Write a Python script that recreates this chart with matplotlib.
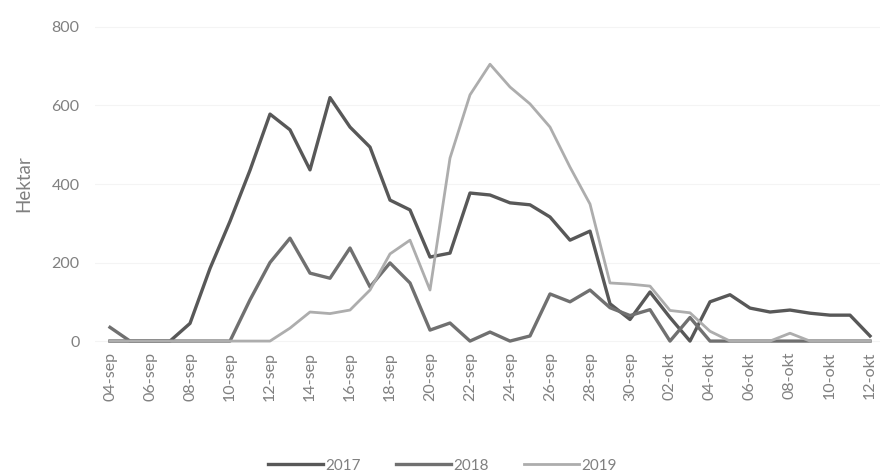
import matplotlib
matplotlib.use("Agg")
import matplotlib.pyplot as plt

plt.rcParams['font.family'] = ['Lato', 'DejaVu Sans']

dates = (["%02d-sep" % d for d in range(4, 31)] +
         ["%02d-okt" % d for d in range(1, 13)])

ha_2017 = [0, 0, 0, 0, 45, 185, 305, 435, 578, 538, 436, 620, 545, 494,
           359, 334, 214, 224, 377, 372, 352, 347, 316, 257, 280, 95, 55,
           125, 60, 0, 100, 118, 84, 74, 79, 71, 66, 66, 13]
ha_2018 = [35, 0, 0, 0, 0, 0, 0, 105, 200, 262, 173, 160, 237, 138,
           199, 148, 28, 46, 0, 23, 0, 13, 120, 100, 130, 85, 65,
           80, 0, 60, 0, 0, 0, 0, 0, 0, 0, 0, 0]
ha_2019 = [0, 0, 0, 0, 0, 0, 0, 0, 0, 33, 74, 70, 79, 130,
           222, 257, 130, 466, 627, 705, 647, 604, 545, 443, 349, 148, 145,
           140, 78, 72, 25, 0, 0, 0, 20, 0, 0, 0, 0]

series = [("2017", ha_2017, "#585858", 2.4),
          ("2018", ha_2018, "#707070", 2.4),
          ("2019", ha_2019, "#adadad", 2.0)]

text_col = '#808080'

fig = plt.figure(figsize=(8.85, 4.76), dpi=100)
ax = fig.add_axes([95 / 885, 131 / 476, 785 / 885, 322 / 476])

x = list(range(len(dates)))
for name, vals, col, lw in series:
    ax.plot(x, vals, color=col, lw=lw, label=name, solid_joinstyle='round')

ax.set_xlim(-0.75, 38.5)
ax.set_ylim(-10, 810)
ax.set_yticks([0, 200, 400, 600, 800])
ax.set_xticks(x[::2])
ax.set_xticklabels(dates[::2], rotation=90)
ax.grid(axis='y', color='#f4f4f4', lw=0.8)
ax.set_axisbelow(True)
for s in ax.spines.values():
    s.set_visible(False)
ax.tick_params(axis='both', length=0, labelsize=11.5, colors=text_col)
ax.tick_params(axis='y', pad=11)
ax.tick_params(axis='x', pad=5)
ax.set_ylabel("Hektar", fontsize=13.5, color=text_col, labelpad=14)

fig.legend(loc='lower center', bbox_to_anchor=(0.5, -0.022), ncol=3,
           frameon=False, fontsize=11, handlelength=3.6, columnspacing=2.3,
           handletextpad=0.15, labelcolor=text_col)

fig.savefig("out.png", dpi=100)
